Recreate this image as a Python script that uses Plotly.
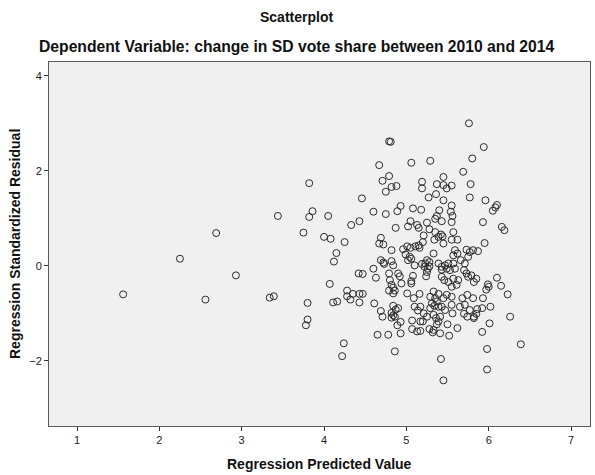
import plotly.graph_objects as go

# Regression predicted values (x) and standardized residuals (y)
predicted = [
    1.56, 2.25, 2.56, 2.69, 2.93, 3.34, 3.39, 3.44, 3.82, 3.86, 3.82, 3.75, 3.80, 3.80, 3.78,
    4.05, 4.00, 4.08, 4.25, 4.33, 4.43, 4.46, 4.15, 4.12, 4.07, 4.11, 4.16, 4.28, 4.28, 4.35,
    4.32, 4.43, 4.43, 4.47, 4.42, 4.47, 4.24, 4.22,
    4.79, 4.81, 4.67, 5.06, 4.79, 4.71, 4.75, 4.82, 4.88, 5.19, 5.19, 4.60, 4.75, 4.89, 4.93,
    5.08, 5.18,
    5.76, 5.29, 5.80, 5.69, 5.45, 5.37, 5.45, 5.49, 5.55, 5.78, 5.77, 5.36, 5.27, 5.45, 5.55,
    5.40, 5.54, 5.37, 5.56,
    5.94, 5.96, 6.10, 6.08, 6.05,
    4.87, 5.05, 5.02, 5.13, 5.15, 4.69, 4.67, 4.72, 4.82, 4.96, 5.01, 5.05, 5.11, 5.15, 5.16,
    4.99, 5.04, 5.02, 5.06, 4.69, 4.72, 4.73, 4.82, 4.84, 5.10, 5.19, 4.60, 4.63, 4.79, 4.90,
    4.92, 5.08, 4.80, 4.94, 5.06, 5.06, 4.82, 4.84, 4.79, 4.86, 4.84, 5.01, 5.09, 5.16, 4.61,
    4.69, 4.71, 4.84, 4.87, 4.90, 4.82, 4.84, 4.86, 4.82, 5.10, 5.14,
    4.65, 4.78, 4.93, 4.89, 4.93, 5.07, 5.17, 5.07, 5.13, 4.86,
    5.25, 5.35, 5.43, 5.55, 5.28, 5.35, 5.42, 5.39, 5.44, 5.57, 5.55, 5.62, 5.21, 5.20, 5.34,
    5.45, 5.33, 5.59, 5.62, 5.57, 5.73, 5.77, 5.81, 5.75, 5.25, 5.23, 5.28, 5.22, 5.26, 5.28,
    5.25, 5.24, 5.39, 5.43, 5.47, 5.51, 5.43, 5.49, 5.57, 5.59, 5.53, 5.66, 5.71, 5.70, 5.73,
    5.75, 5.79, 5.85, 5.82, 5.43, 5.46, 5.51, 5.57, 5.63, 5.61, 5.55, 5.33, 5.39, 5.29, 5.35,
    5.31, 5.37, 5.34, 5.29, 5.39, 5.45, 5.49, 5.55, 5.43, 5.47, 5.55, 5.56, 5.65, 5.71, 5.68,
    5.74, 5.81, 5.77, 5.82, 5.17, 5.21, 5.25, 5.33, 5.36, 5.41, 5.70, 5.74, 5.82,
    5.20, 5.39, 5.50, 5.37, 5.28, 5.33, 5.32, 5.41, 5.52, 5.62, 5.17, 5.42, 5.45,
    5.93, 6.16, 6.19, 5.95, 5.87, 6.10, 5.99, 6.00, 5.97, 6.15, 6.23, 5.93, 5.86, 5.92, 6.02,
    5.85, 6.26,
    6.01, 5.92, 6.39, 5.98, 5.98,
]

residual = [
    -0.60, 0.15, -0.71, 0.69, -0.20, -0.67, -0.64, 1.05, 1.74, 1.15, 1.03, 0.70, -0.78, -1.13, -1.25,
    1.05, 0.61, 0.57, 0.50, 0.86, 0.94, 1.42, 0.27, 0.09, -0.38, -0.77, -0.75, -0.52, -0.64, -0.59,
    -0.71, -0.77, -0.59, -0.59, -0.16, -0.17, -1.63, -1.90,
    2.62, 2.61, 2.12, 2.17, 1.89, 1.79, 1.56, 1.66, 1.68, 1.77, 1.63, 1.14, 1.09, 1.15, 1.26,
    1.21, 1.18,
    3.00, 2.21, 2.26, 1.98, 1.87, 1.72, 1.70, 1.63, 1.69, 1.72, 1.44, 1.51, 1.44, 1.38, 1.27,
    1.17, 1.14, 1.05, 1.05,
    2.50, 1.38, 1.28, 1.23, 1.16,
    0.80, 0.94, 0.83, 0.86, 0.80, 0.59, 0.47, 0.45, 0.33, 0.35, 0.41, 0.38, 0.41, 0.43, 0.38,
    0.24, 0.19, 0.12, 0.15, 0.12, 0.07, 0.04, 0.10, 0.01, 0.01, 0.04, -0.06, -0.25, -0.16, -0.16,
    -0.22, -0.21, -0.30, -0.37, -0.32, -0.37, -0.40, -0.46, -0.52, -0.52, -0.58, -0.58, -0.68, -0.59, -0.79,
    -0.95, -1.07, -0.84, -0.92, -0.89, -0.99, -1.04, -1.07, -1.09, -0.86, -0.94,
    -1.45, -1.45, -1.42, -1.25, -1.18, -1.15, -1.17, -1.33, -1.38, -1.80,
    0.91, 0.99, 0.94, 0.92, 0.77, 0.71, 0.66, 0.61, 0.62, 0.71, 0.55, 0.55, 0.64, 0.50, 0.55,
    0.47, 0.26, 0.33, 0.26, 0.22, 0.34, 0.29, 0.33, 0.19, 0.12, 0.05, 0.08, -0.02, -0.06, -0.01,
    -0.13, -0.22, 0.05, -0.02, 0.01, 0.05, -0.08, -0.06, 0.05, -0.06, -0.09, 0.12, 0.05, -0.09, -0.16,
    -0.23, -0.20, -0.27, -0.34, -0.23, -0.30, -0.34, -0.27, -0.30, -0.40, -0.44, -0.54, -0.59, -0.65, -0.68,
    -0.79, -0.75, -0.84, -0.89, -0.86, -0.68, -0.61, -0.65, -0.86, -0.93, -0.82, -1.00, -0.86, -0.82, -0.68,
    -0.61, -0.68, -0.93, -1.07, -0.86, -1.00, -1.07, -1.03, -1.10, -1.07, -1.01, -1.07, -1.10,
    -1.17, -1.17, -1.23, -1.23, -1.33, -1.35, -1.40, -1.42, -1.47, -1.31, -1.37, -1.96, -2.41,
    0.92, 0.82, 0.75, 0.48, 0.31, -0.25, -0.39, -0.44, -0.50, -0.42, -0.60, -0.68, -0.91, -0.89, -0.86,
    -1.01, -1.07,
    -1.21, -1.39, -1.65, -1.75, -2.18,
]

x_ticks = [1, 2, 3, 4, 5, 6, 7]
y_ticks = [-2, 0, 2, 4]

title_text = "Scatterplot"
subtitle_text = "Dependent Variable: change in SD vote share between 2010 and 2014"
x_title = "Regression Predicted Value"
y_title = "Regression Standardized Residual"

FONT = "Liberation Sans, Arial, sans-serif"

fig = go.Figure()
fig.add_trace(go.Scatter(
    x=predicted, y=residual, mode="markers",
    marker=dict(symbol="circle-open", size=7, color="#2b2b2b", line=dict(width=1)),
    showlegend=False, hoverinfo="skip",
))

axis_common = dict(
    showgrid=False, zeroline=False, showline=True, mirror=True,
    linecolor="#5a5a5a", linewidth=1, ticks="outside", ticklen=4,
    tickcolor="#333333", tickfont=dict(family=FONT, size=11, color="#222222"),
)

fig.update_layout(
    width=595, height=475,
    margin=dict(l=49, r=5, t=62, b=49),
    paper_bgcolor="white", plot_bgcolor="#f0f0f0",
    font=dict(family=FONT, color="#111111"),
    xaxis=dict(range=[0.66, 7.23], tickvals=x_ticks, **axis_common),
    yaxis=dict(range=[-3.37, 4.29], tickvals=y_ticks, **axis_common),
    annotations=[
        dict(text="<b>" + title_text + "</b>", xref="paper", yref="paper",
             x=0.458, y=1.0, yshift=45, xanchor="center", yanchor="middle",
             showarrow=False, font=dict(family=FONT, size=14, color="#111111")),
        dict(text="<b>" + subtitle_text + "</b>", xref="paper", yref="paper",
             x=0.458, y=1.0, yshift=16, xanchor="center", yanchor="middle",
             showarrow=False, font=dict(family=FONT, size=15.7, color="#111111")),
        dict(text="<b>" + x_title + "</b>", xref="paper", yref="paper",
             x=0.5, y=0.0, yshift=-38, xanchor="center", yanchor="middle",
             showarrow=False, font=dict(family=FONT, size=14, color="#111111")),
        dict(text="<b>" + y_title + "</b>", xref="paper", yref="paper",
             x=0.0, xshift=-34, y=0.5, xanchor="center", yanchor="middle",
             textangle=-90, showarrow=False, font=dict(family=FONT, size=14, color="#111111")),
    ],
)

fig.write_html("out.html")
